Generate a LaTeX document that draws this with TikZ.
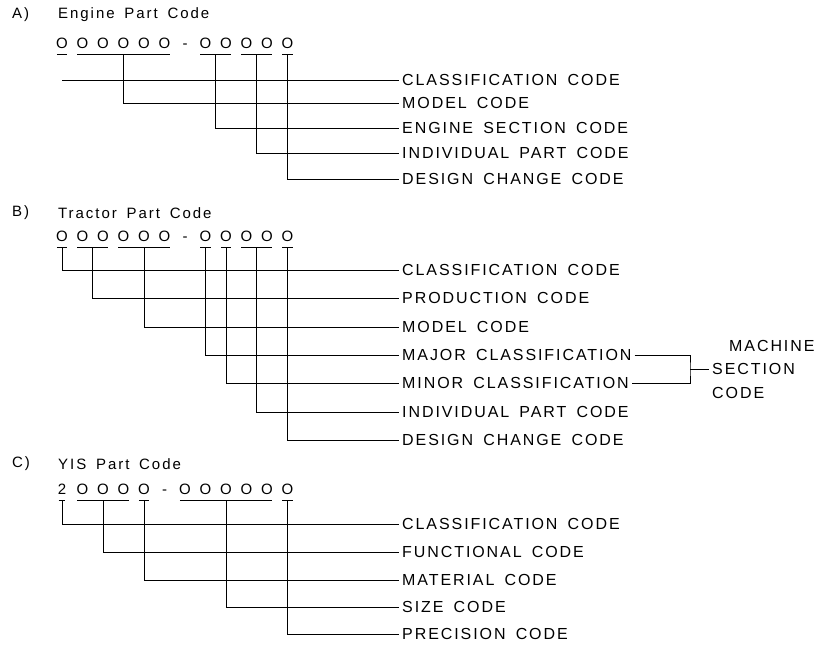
\documentclass[tikz,border=0pt]{standalone}
\usepackage{fontspec}
\setmainfont{Liberation Sans}
\newfontfamily\capsfont[LetterSpace=12,WordSpace=1.6]{Liberation Sans}
\newfontfamily\headfont[LetterSpace=13,WordSpace=1.6]{Liberation Sans}
\usetikzlibrary{calc}
\def\uline(#1)(#2){\draw[cline] ($(#1.south west)+(1,6)$) -- ($(#2.south east)+(-1,6)$);}
\def\codeline(#1)(#2)(#3){\draw[cline] ($(#1.south)!0.5!(#2.south)+(0,6)$) |- (#3.west);}

\begin{document}
\begin{tikzpicture}[x=1pt, y=-1pt,
		cline/.style={line width=0.8pt},
		dig/.style={inner sep=0pt, text height=11pt, text depth=0pt, font=\fontsize{15}{15}\selectfont},
		ttl/.style={anchor=west, inner sep=0pt, font=\headfont\fontsize{15}{15}\selectfont},
		lbl/.style={anchor=west, inner xsep=3pt, inner ysep=0pt, font=\capsfont\fontsize{16}{18}\selectfont}]
			%%%%% START %%%%%
			\useasboundingbox (0, 0) rectangle (819, 652);
			
			% A) engine part code
			\node[ttl] (atag) at (12, 15) {A)};
			\node[ttl] (atitle) at (58, 15) {Engine Part Code};
			\foreach \c [count=\k] in {O,O,O,O,O,O,-,O,O,O,O,O}
				\node[dig] (a\k) at (41.5+20.5*\k, 43) {\c};
			
			\node[lbl] (acl) at (399, 80) {CLASSIFICATION CODE};
			\node[lbl] (amo) at (399, 103) {MODEL CODE};
			\node[lbl] (aes) at (399, 128) {ENGINE SECTION CODE};
			\node[lbl] (aip) at (399, 153) {INDIVIDUAL PART CODE};
			\node[lbl] (adc) at (399, 179) {DESIGN CHANGE CODE};
			
			\uline(a1)(a1) \uline(a2)(a6) \uline(a8)(a9) \uline(a10)(a11) \uline(a12)(a12)
			\draw[cline] (a1 |- acl.west) -- (acl.west);
			\codeline(a2)(a6)(amo)
			\codeline(a8)(a9)(aes)
			\codeline(a10)(a11)(aip)
			\codeline(a12)(a12)(adc)
			
			% B) tractor part code
			\node[ttl] (btag) at (12, 213) {B)};
			\node[ttl] (btitle) at (58, 213) {Tractor Part Code};
			\foreach \c [count=\k] in {O,O,O,O,O,O,-,O,O,O,O,O}
				\node[dig] (b\k) at (41.5+20.5*\k, 236) {\c};
			
			\node[lbl] (bcl) at (399, 270) {CLASSIFICATION CODE};
			\node[lbl] (bpr) at (399, 298) {PRODUCTION CODE};
			\node[lbl] (bmo) at (399, 327) {MODEL CODE};
			\node[lbl] (bmj) at (399, 355) {MAJOR CLASSIFICATION};
			\node[lbl] (bmn) at (399, 383) {MINOR CLASSIFICATION};
			\node[lbl] (bip) at (399, 412) {INDIVIDUAL PART CODE};
			\node[lbl] (bdc) at (399, 440) {DESIGN CHANGE CODE};
			
			\uline(b1)(b1) \uline(b2)(b3) \uline(b4)(b6) \uline(b8)(b8) \uline(b9)(b9) \uline(b10)(b11) \uline(b12)(b12)
			\codeline(b1)(b1)(bcl)
			\codeline(b2)(b3)(bpr)
			\codeline(b4)(b6)(bmo)
			\codeline(b8)(b8)(bmj)
			\codeline(b9)(b9)(bmn)
			\codeline(b10)(b11)(bip)
			\codeline(b12)(b12)(bdc)
			
			\coordinate (bbr) at (690, 369);
			\node[lbl, align=left, font=\capsfont\fontsize{16}{23.5}\selectfont] (bsec) at (709, 369) {\hspace*{17pt}MACHINE\\SECTION\\CODE};
			\draw[cline] (bmj.east) -| (bbr) |- (bmn.east);
			\draw[cline] (bbr) -- (bsec.west);
			
			% C) YIS part code
			\node[ttl] (ctag) at (12, 464) {C)};
			\node[ttl] (ctitle) at (58, 464) {YIS Part Code};
			\foreach \c [count=\k] in {2,O,O,O,O,-,O,O,O,O,O,O}
				\node[dig] (c\k) at (41.5+20.5*\k, 489) {\c};
			
			\node[lbl] (ccl) at (399, 524) {CLASSIFICATION CODE};
			\node[lbl] (cfu) at (399, 552) {FUNCTIONAL CODE};
			\node[lbl] (cma) at (399, 580) {MATERIAL CODE};
			\node[lbl] (csz) at (399, 607) {SIZE CODE};
			\node[lbl] (cpr) at (399, 634) {PRECISION CODE};
			
			\uline(c1)(c1) \uline(c2)(c4) \uline(c5)(c5) \uline(c7)(c11) \uline(c12)(c12)
			\codeline(c1)(c1)(ccl)
			\codeline(c2)(c4)(cfu)
			\codeline(c5)(c5)(cma)
			\codeline(c7)(c11)(csz)
			\codeline(c12)(c12)(cpr)
			
			%%%%% END %%%%%
\end{tikzpicture}
\end{document}
